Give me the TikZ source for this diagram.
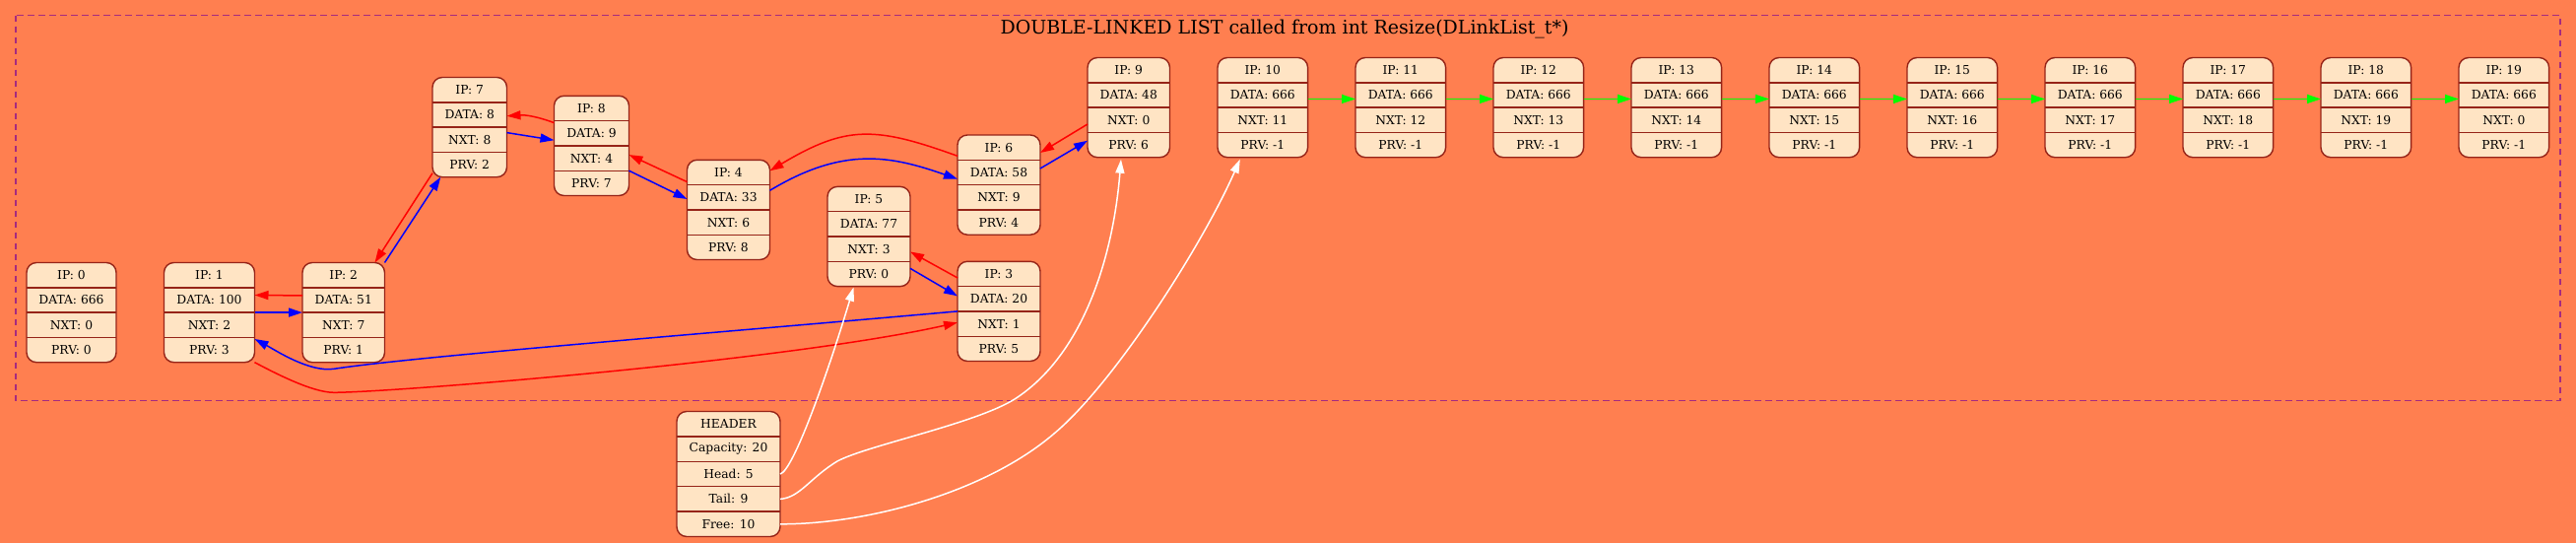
\documentclass[tikz,border=0pt]{standalone}
\usepackage{fontspec}
\setmainfont{DejaVu Serif}
\usetikzlibrary{arrows.meta,calc}
\definecolor{bgc}{HTML}{FF7F50}
\definecolor{fillc}{HTML}{FFE4C4}
\definecolor{bordc}{HTML}{962418}
\definecolor{clustc}{HTML}{A62A80}
\newcommand\dlnode[8]{%
  \node[nbox, minimum width=#4pt, anchor=north west] (#1) at (#2,#3) {};
  \node[cell, minimum width=#4pt, anchor=north west] (#1-ip) at (#2,#3) {IP: #5};
  \node[cell, minimum width=#4pt, anchor=north] (#1-data) at (#1-ip.south) {DATA: #6};
  \node[cell, minimum width=#4pt, anchor=north] (#1-nxt) at (#1-data.south) {NXT: #7};
  \node[cell, minimum width=#4pt, anchor=north] (#1-prv) at (#1-nxt.south) {PRV: #8};
  \draw[rowline] (#1-ip.south west) -- (#1-ip.south east);
  \draw[rowline] (#1-data.south west) -- (#1-data.south east);
  \draw[rowline] (#1-nxt.south west) -- (#1-nxt.south east);
}
\begin{document}
\begin{tikzpicture}[x=1pt,y=-1pt,
  nbox/.style={draw=bordc, fill=fillc, line width=1.4pt, rounded corners=10pt, minimum height=101.2pt, inner sep=0pt, outer sep=0pt},
  hbox/.style={nbox, minimum height=127pt, minimum width=105pt},
  cell/.style={inner sep=0pt, outer sep=0pt, minimum height=25.3pt, font=\fontsize{12.3}{14}\selectfont, text=black},
  hcell/.style={cell, minimum height=25.4pt, minimum width=105pt},
  rowline/.style={draw=bordc, line width=1.4pt},
  tip/.style={-{Triangle[length=14pt,width=9pt]}},
  nxtedge/.style={draw=blue, line width=1.5pt, tip},
  prvedge/.style={draw=red, line width=1.5pt, tip},
  freeedge/.style={draw=green, line width=1.5pt, tip},
  hdredge/.style={draw=white, line width=1.5pt, tip},
  titlefont/.style={font=\fontsize{19}{22}\selectfont}]
\useasboundingbox (0,0) rectangle (2615,551);
\fill[bgc] (0,0) rectangle (2615,551);
\draw[clustc, line width=1.3pt, dash pattern=on 6.5pt off 4.5pt] (16,15.7) rectangle (2599,406.5);
\node[titlefont] (title) at (1304,29.5) {DOUBLE-LINKED LIST called from int Resize(DLinkList\_t*)};

\dlnode{n0}{27}{266.5}{91}{0}{666}{0}{0}
\dlnode{n1}{166.5}{266.5}{92}{1}{100}{2}{3}
\dlnode{n2}{307}{266.5}{83.5}{2}{51}{7}{1}
\dlnode{n7}{439}{78.5}{75.5}{7}{8}{8}{2}
\dlnode{n8}{562.5}{97.3}{76}{8}{9}{4}{7}
\dlnode{n4}{697.5}{162.3}{84}{4}{33}{6}{8}
\dlnode{n5}{840}{189.4}{84}{5}{77}{3}{0}
\dlnode{n6}{972}{137}{84}{6}{58}{9}{4}
\dlnode{n3}{972}{265.3}{84}{3}{20}{1}{5}
\dlnode{n9}{1104}{58.5}{83.5}{9}{48}{0}{6}
\dlnode{n10}{1236}{58.5}{91.6}{10}{666}{11}{-1}
\dlnode{n11}{1376}{58.5}{91.6}{11}{666}{12}{-1}
\dlnode{n12}{1516}{58.5}{91.6}{12}{666}{13}{-1}
\dlnode{n13}{1656}{58.5}{91.6}{13}{666}{14}{-1}
\dlnode{n14}{1796}{58.5}{91.6}{14}{666}{15}{-1}
\dlnode{n15}{1936}{58.5}{91.6}{15}{666}{16}{-1}
\dlnode{n16}{2076}{58.5}{91.6}{16}{666}{17}{-1}
\dlnode{n17}{2216}{58.5}{91.6}{17}{666}{18}{-1}
\dlnode{n18}{2356}{58.5}{91.6}{18}{666}{19}{-1}
\dlnode{n19}{2496}{58.5}{91.6}{19}{666}{0}{-1}

% header
\node[hbox, anchor=north west] (hdr) at (687,417.5) {};
\node[hcell, anchor=north west] (hdr-t) at (687,417.5) {HEADER};
\node[hcell, anchor=north] (hdr-cap) at (hdr-t.south) {Capacity: 20};
\node[hcell, anchor=north] (hdr-head) at (hdr-cap.south) {Head: 5};
\node[hcell, anchor=north] (hdr-tail) at (hdr-head.south) {Tail: 9};
\node[hcell, anchor=north] (hdr-free) at (hdr-tail.south) {Free: 10};
\foreach \r in {t,cap,head,tail}{\draw[rowline] (hdr-\r.south west) -- (hdr-\r.south east);}

% next / prev links
\draw[prvedge] ([yshift=4.5pt]n2-data.west) -- ([yshift=5pt]n1-data.east);
\draw[nxtedge] (n1-data.south east) -- (n2-data.south west);
\draw[prvedge] ($(n7.south west)+(0,-4)$) -- ($(n2.north east)+(-10,0)$);
\draw[nxtedge] (n2.north east) -- ($(n7.south west)+(8.3,0)$);
\draw[prvedge] ([yshift=-2pt]n8-data.north west) to[bend right=12] ([yshift=-1.3pt]n7-data.east);
\draw[nxtedge] ([yshift=-5.5pt]n7-data.south east) -- ([yshift=-7pt]n8-data.west);
\draw[prvedge] ([yshift=3pt]n4-ip.south west) -- ([yshift=3.5pt]n8-nxt.east);
\draw[nxtedge] (n8-nxt.south east) -- ([yshift=-1.75pt]n4-data.west);
\draw[prvedge] ([yshift=4pt]n6-ip.south west) .. controls (888,128) and (859,127) .. ([yshift=-11pt]n4.north east);
\draw[nxtedge] ([yshift=-5.7pt]n4-data.north east) .. controls (856.8,147.8) and (905.1,158.4) .. ([yshift=-6.7pt]n6-data.west);
\draw[prvedge] ([yshift=-4.25pt]n9-nxt.west) -- ([yshift=-5.35pt]n6-ip.east);
\draw[nxtedge] ([yshift=4pt]n6-data.east) -- ([yshift=4.3pt]n9-prv.west);
\draw[prvedge] ([yshift=-4pt]n3-ip.west) -- ([yshift=-2.8pt]n5-nxt.east);
\draw[nxtedge] ([yshift=5.6pt]n5-prv.east) -- ([yshift=2.85pt]n3-data.west);
\draw[nxtedge] (n3-data.south west) .. controls (700,340) and (420,362) .. (339,374.3) .. controls (314,378.1) and (279,355) .. ([yshift=-1.6pt]n1-prv.north east);
\draw[prvedge] (n1.south east) .. controls (279,378.5) and (317,398.3) .. (339,398.3) .. controls (400,398) and (800,366) .. ([yshift=1.25pt]n3-nxt.west);

% free list
\foreach \a/\b in {10/11,11/12,12/13,13/14,14/15,15/16,16/17,17/18,18/19}{
  \draw[freeedge] ([yshift=-4pt]n\a-data.east) -- ([yshift=-4pt]n\b-data.west);
}

% header links
\draw[hdredge] (hdr-head.east) .. controls (805,478) and (840,380) .. ($(n5.south)+(-15.5,1)$);
\draw[hdredge] (hdr-tail.east) .. controls (812,505) and (822,485) .. (850,468) .. controls (880,452) and (990,430) .. (1030,405) .. controls (1100,360) and (1130,260) .. ($(n9.south)+(-7.75,2)$);
\draw[hdredge] (hdr-free.east) .. controls (880,532) and (1000,500) .. (1070,440) .. controls (1130,390) and (1220,250) .. ($(n10.south)+(-23,2)$);
\end{tikzpicture}
\end{document}
